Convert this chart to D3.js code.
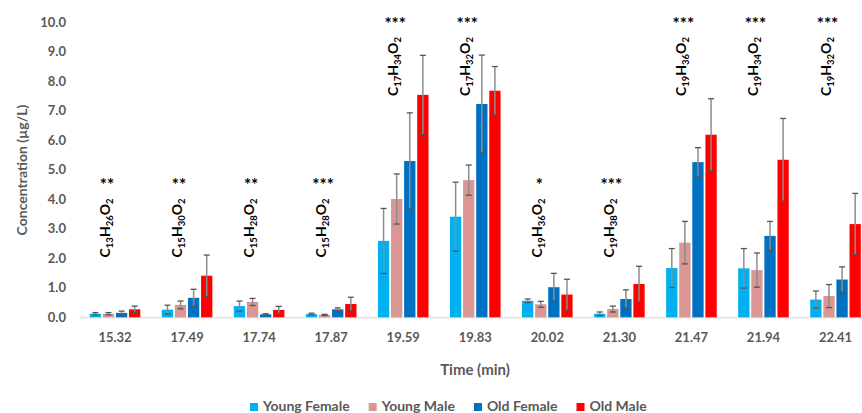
<!DOCTYPE html>
<html>
<head>
<meta charset="utf-8">
<script src="https://cdn.jsdelivr.net/npm/d3@7"></script>
<style>
  html, body { margin: 0; padding: 0; background: #fff; }
  svg { display: block; font-family: Lato, "Open Sans", sans-serif; }
</style>
</head>
<body>
<svg id="chart" width="862" height="413"></svg>
<script>
// ---- data ----
const categories = ["15.32","17.49","17.74","17.87","19.59","19.83","20.02","21.30","21.47","21.94","22.41"];
const seriesNames = ["Young Female","Young Male","Old Female","Old Male"];
const youngFemale    = [0.12,0.26,0.38,0.11,2.59,3.41,0.56,0.12,1.67,1.66,0.60];
const youngFemaleErr = [0.04,0.15,0.17,0.03,1.10,1.17,0.06,0.06,0.66,0.67,0.29];
const youngMale      = [0.12,0.42,0.52,0.08,4.01,4.65,0.44,0.28,2.53,1.60,0.72];
const youngMaleErr   = [0.04,0.13,0.12,0.02,0.85,0.51,0.10,0.10,0.72,0.58,0.39];
const oldFemale      = [0.15,0.66,0.10,0.27,5.30,7.23,1.02,0.62,5.26,2.76,1.28];
const oldFemaleErr   = [0.06,0.29,0.02,0.05,1.63,1.66,0.47,0.31,0.49,0.49,0.43];
const oldMale        = [0.27,1.41,0.25,0.45,7.54,7.68,0.77,1.13,6.19,5.34,3.16];
const oldMaleErr     = [0.11,0.70,0.12,0.23,1.34,0.82,0.52,0.60,1.22,1.40,1.04];
const formulas = ["C13H26O2","C15H30O2","C15H28O2","C15H28O2","C17H34O2","C17H32O2","C19H36O2","C19H38O2","C19H36O2","C19H34O2","C19H32O2"];
const significance = ["**","**","**","***","***","***","*","***","***","***","***"];
// concentration level at which each formula label starts (bottom of rotated text)
const labelLevel = [2.03,2.03,2.03,2.03,7.5,7.5,2.03,2.03,7.5,7.5,7.5];
const yTicks = [0,1,2,3,4,5,6,7,8,9,10];

const colors = ["#00B0F0","#DA9694","#0070C0","#FF0000"];
const values = [youngFemale, youngMale, oldFemale, oldMale];
const errs = [youngFemaleErr, youngMaleErr, oldFemaleErr, oldMaleErr];

// ---- layout ----
const svg = d3.select("#chart");
const x0 = 79, step = 72.05;
const x = d3.scaleBand().domain(categories).range([x0, x0 + step * categories.length]).padding(0);
const xs = d3.scaleBand().domain(seriesNames).range([0, x.bandwidth()]).paddingInner(0.137).paddingOuter(0.82);
const y = d3.scaleLinear().domain([0, 10]).range([317.3, 22.3]);
const axisColor = "#595959";

// y axis labels
const yAxis = d3.axisLeft(y).tickValues(yTicks).tickFormat(d3.format(".1f")).tickSize(0).tickPadding(0);
const gy = svg.append("g").attr("transform", "translate(66,0)").call(yAxis);
gy.select(".domain").remove();
gy.selectAll("text").attr("fill", axisColor).attr("font-size", 13).attr("font-weight", "bold")
  .attr("font-family", "Lato, sans-serif");

// x axis
const xAxis = d3.axisBottom(x).tickSize(0).tickPadding(15);
const gx = svg.append("g").attr("transform", `translate(0,${y(0)})`).call(xAxis);
gx.select(".domain").attr("stroke", "#d9d9d9").attr("stroke-width", 1);
gx.selectAll("text").attr("fill", axisColor).attr("font-size", 13).attr("font-weight", "bold")
  .attr("font-family", "Lato, sans-serif");

// bars
const rows = [];
categories.forEach((c, i) => seriesNames.forEach((s, j) => rows.push({c, s, j, v: values[j][i], e: errs[j][i]})));
const gb = svg.append("g");
gb.selectAll("rect").data(rows).join("rect")
  .attr("x", d => x(d.c) + xs(d.s))
  .attr("width", xs.bandwidth())
  .attr("y", d => y(d.v))
  .attr("height", d => y(0) - y(d.v))
  .attr("fill", d => colors[d.j]);

// error bars
const ge = svg.append("g");
const capW = 3;
rows.forEach(d => {
  const cx = x(d.c) + xs(d.s) + xs.bandwidth() / 2;
  ge.append("line").attr("x1", cx).attr("x2", cx).attr("y1", y(d.v + d.e)).attr("y2", y(Math.max(0, d.v - d.e)))
    .attr("stroke", "#8c8c8c").attr("stroke-width", 1.5);
  [d.v + d.e, Math.max(0, d.v - d.e)].forEach(val => {
    ge.append("line").attr("x1", cx - capW).attr("x2", cx + capW).attr("y1", y(val)).attr("y2", y(val))
      .attr("stroke", "#555").attr("stroke-width", 1.3);
  });
});

// formula annotations (rotated, reading bottom to top)
function parseFormula(f) {
  return f.match(/[A-Z][a-z]?|\d+/g).map(t => ({t, sub: /\d/.test(t)}));
}
categories.forEach((c, i) => {
  const base = x(c) + x.bandwidth() / 2 - 5;   // baseline of the rotated capitals
  const yb = y(labelLevel[i]);
  const t = svg.append("text")
    .attr("transform", `translate(${base},${yb}) rotate(-90)`)
    .attr("font-family", "Lato, sans-serif").attr("font-weight", "bold")
    .attr("fill", "#000");
  let shifted = false;
  parseFormula(formulas[i]).forEach(p => {
    const ts = t.append("tspan").text(p.t);
    if (p.sub) {
      ts.attr("font-size", 9.5).attr("dy", shifted ? 0 : 3);
      shifted = true;
    } else {
      ts.attr("font-size", 14).attr("dy", shifted ? -3 : 0);
      shifted = false;
    }
  });
  svg.append("text")
    .attr("x", base - 3).attr("y", yb - 66)
    .attr("text-anchor", "middle")
    .attr("font-family", "Lato, sans-serif").attr("font-weight", "bold")
    .attr("font-size", 17)
    .attr("fill", "#000").text(significance[i]);
});

// axis titles
svg.append("text").attr("x", 475).attr("y", 375).attr("text-anchor", "middle")
  .attr("font-size", 15).attr("font-weight", "bold").attr("fill", axisColor).text("Time (min)");
svg.append("text").attr("transform", "translate(27,170) rotate(-90)").attr("text-anchor", "middle")
  .attr("font-size", 14).attr("font-weight", "bold").attr("fill", axisColor).text("Concentration (µg/L)");

// legend
const gl = svg.append("g").attr("transform", "translate(250,0)");
let lx = 0;
seriesNames.forEach((s, j) => {
  gl.append("rect").attr("x", lx).attr("y", 403).attr("width", 8).attr("height", 8).attr("fill", colors[j]);
  const tt = gl.append("text").attr("x", lx + 13).attr("y", 411).attr("font-size", 14)
    .attr("font-weight", "bold").attr("fill", axisColor).text(s);
  lx += 13 + tt.node().getComputedTextLength() + 19;
});
</script>
</body>
</html>
